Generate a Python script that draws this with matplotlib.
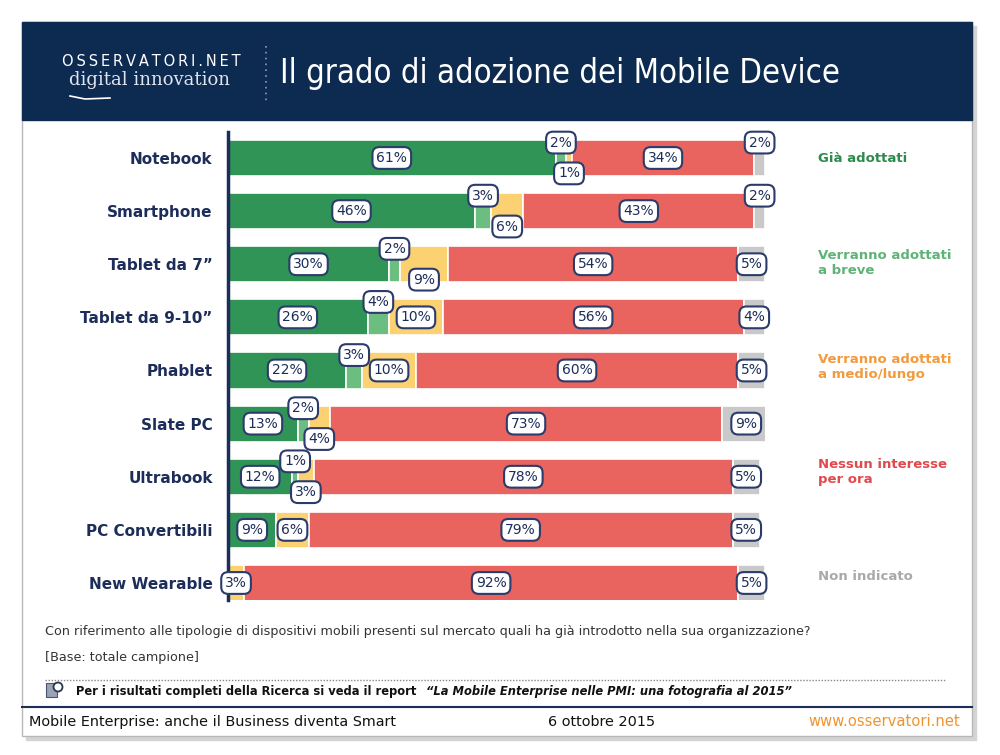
import numpy as np
import matplotlib.pyplot as plt
from matplotlib.patches import Rectangle, Circle

# dati
dispositivi = ['Notebook', 'Smartphone', 'Tablet da 7”', 'Tablet da 9-10”', 'Phablet',
               'Slate PC', 'Ultrabook', 'PC Convertibili', 'New Wearable']
gia_adottati = [61, 46, 30, 26, 22, 13, 12, 9, 0]
a_breve = [2, 3, 2, 4, 3, 2, 1, 0, 0]
medio_lungo = [1, 6, 9, 10, 10, 4, 3, 6, 3]
nessun_interesse = [34, 43, 54, 56, 60, 73, 78, 79, 92]
non_indicato = [2, 2, 5, 4, 5, 9, 5, 5, 5]
serie = ['Già adottati', 'Verranno adottati\na breve', 'Verranno adottati\na medio/lungo',
         'Nessun interesse\nper ora', 'Non indicato']

colori = ['#2f9455', '#6cbd80', '#fcd172', '#e9645f', '#c9c9c9']
colori_testo = ['#2e8a4c', '#5fb377', '#f29a3c', '#e04a4e', '#a9a9a9']
navy = '#1d2d5a'

fig = plt.figure(figsize=(10, 7.55), dpi=100)

# sfondo / cornice in coordinate pixel
bg = fig.add_axes([0, 0, 1, 1], zorder=0)
bg.set_xlim(0, 1000)
bg.set_ylim(755, 0)
bg.axis('off')
bg.add_patch(Rectangle((26, 26), 950, 714, color='#d4d4d4', zorder=0))
bg.add_patch(Rectangle((22, 22), 950, 714, facecolor='white', edgecolor='#b8b8b8', lw=1, zorder=1))
bg.add_patch(Rectangle((22, 22), 950, 98, color='#0d2b51', zorder=2))
bg.text(62, 61, '\u2009'.join('OSSERVATORI.NET'), color='white', fontsize=10.5,
        va='center', zorder=3)
bg.text(69, 80, 'digital innovation', color='#dfe4ee', fontsize=13, va='center',
        family='DejaVu Serif', zorder=3)
bg.plot([70, 85, 110], [96, 99, 98], color='white', lw=1.2, zorder=3)
bg.plot([266, 266], [46, 104], color='#8c9bb4', lw=1.2, ls=(0, (1, 2.5)), zorder=3)
bg.text(280, 74, 'Il grado di adozione dei Mobile Device', color='white', fontsize=23.6,
        va='center', family='DejaVu Sans', fontstretch='condensed', zorder=3)

# legenda come testo a destra
leg_y = [158, 263, 367, 472, 577]
for nome, c, yy in zip(serie, colori_testo, leg_y):
    bg.text(818, yy, nome, color=c, fontsize=9.5, fontweight='bold', va='center',
            linespacing=1.25, zorder=3)

# note in basso
bg.text(45, 632, 'Con riferimento alle tipologie di dispositivi mobili presenti sul mercato '
        'quali ha già introdotto nella sua organizzazione?', color='#333333', fontsize=9.2,
        va='center', zorder=3)
bg.text(45, 658, '[Base: totale campione]', color='#333333', fontsize=9.2, va='center', zorder=3)
bg.plot([45, 945], [680, 680], color='#888888', lw=1, ls=(0, (1, 1.2)), zorder=3)
bg.add_patch(Rectangle((46, 683), 11, 14, facecolor='#9aa3b5', edgecolor='#4a5570', lw=0.8, zorder=3))
bg.add_patch(Circle((58, 687), 4.5, facecolor='white', edgecolor='#2a3550', lw=1.3, zorder=4))
bg.text(76, 691, 'Per i risultati completi della Ricerca si veda il report', color='#111111',
        fontsize=8.3, fontweight='bold', va='center', zorder=3)
bg.text(426, 691, '“La Mobile Enterprise nelle PMI: una fotografia al 2015”', color='#111111',
        fontsize=8.3, style='italic', fontweight='bold', va='center', zorder=3)
bg.plot([22, 972], [707, 707], color='#1d2d5a', lw=1.5, zorder=3)
bg.text(29, 722, 'Mobile Enterprise: anche il Business diventa Smart', color='#111111',
        fontsize=10.4, va='center', zorder=3)
bg.text(602, 722, '6 ottobre 2015', color='#111111', fontsize=10.4, va='center',
        ha='center', zorder=3)
bg.text(960, 722, 'www.osservatori.net', color='#f0932e', fontsize=10.6, va='center',
        ha='right', zorder=3)

# grafico a barre
ax = fig.add_axes([0.228, 1 - 600 / 755, 0.537, 468 / 755], zorder=2)
ax.patch.set_alpha(0)
ax.set_xlim(0, 100)
ax.set_ylim(8.32, -0.489)

valori = np.array([gia_adottati, a_breve, medio_lungo, nessun_interesse, non_indicato])
y = np.arange(len(dispositivi))
left = np.zeros(len(dispositivi))
h = 0.68
box = dict(boxstyle='round,pad=0.28,rounding_size=0.5', fc='white', ec='#2b3b6b', lw=1.5)
for s in range(5):
    ax.barh(y, valori[s], left=left, height=h, color=colori[s], edgecolor='white',
            linewidth=1.2, zorder=2)
    for i in range(len(dispositivi)):
        v = valori[s][i]
        if v == 0:
            continue
        xc = left[i] + v / 2
        dy = 0
        if s == 1:
            dy = -0.29
        elif s == 2 and v < 10 and a_breve[i] > 0:
            dy = 0.29
        elif s == 4 and v <= 2:
            dy = -0.29
        ax.text(xc, i + dy, f'{v}%', ha='center', va='center', fontsize=10,
                color=navy, bbox=box, zorder=5)
    left += valori[s]

ax.set_yticks(y)
ax.set_yticklabels(dispositivi, fontsize=11, fontweight='bold', color=navy)
ax.tick_params(axis='y', length=0, pad=11)
ax.set_xticks([])
for sp in ['top', 'right', 'bottom']:
    ax.spines[sp].set_visible(False)
ax.spines['left'].set_color(navy)
ax.spines['left'].set_linewidth(2.5)

fig.savefig('out.png', dpi=100)
